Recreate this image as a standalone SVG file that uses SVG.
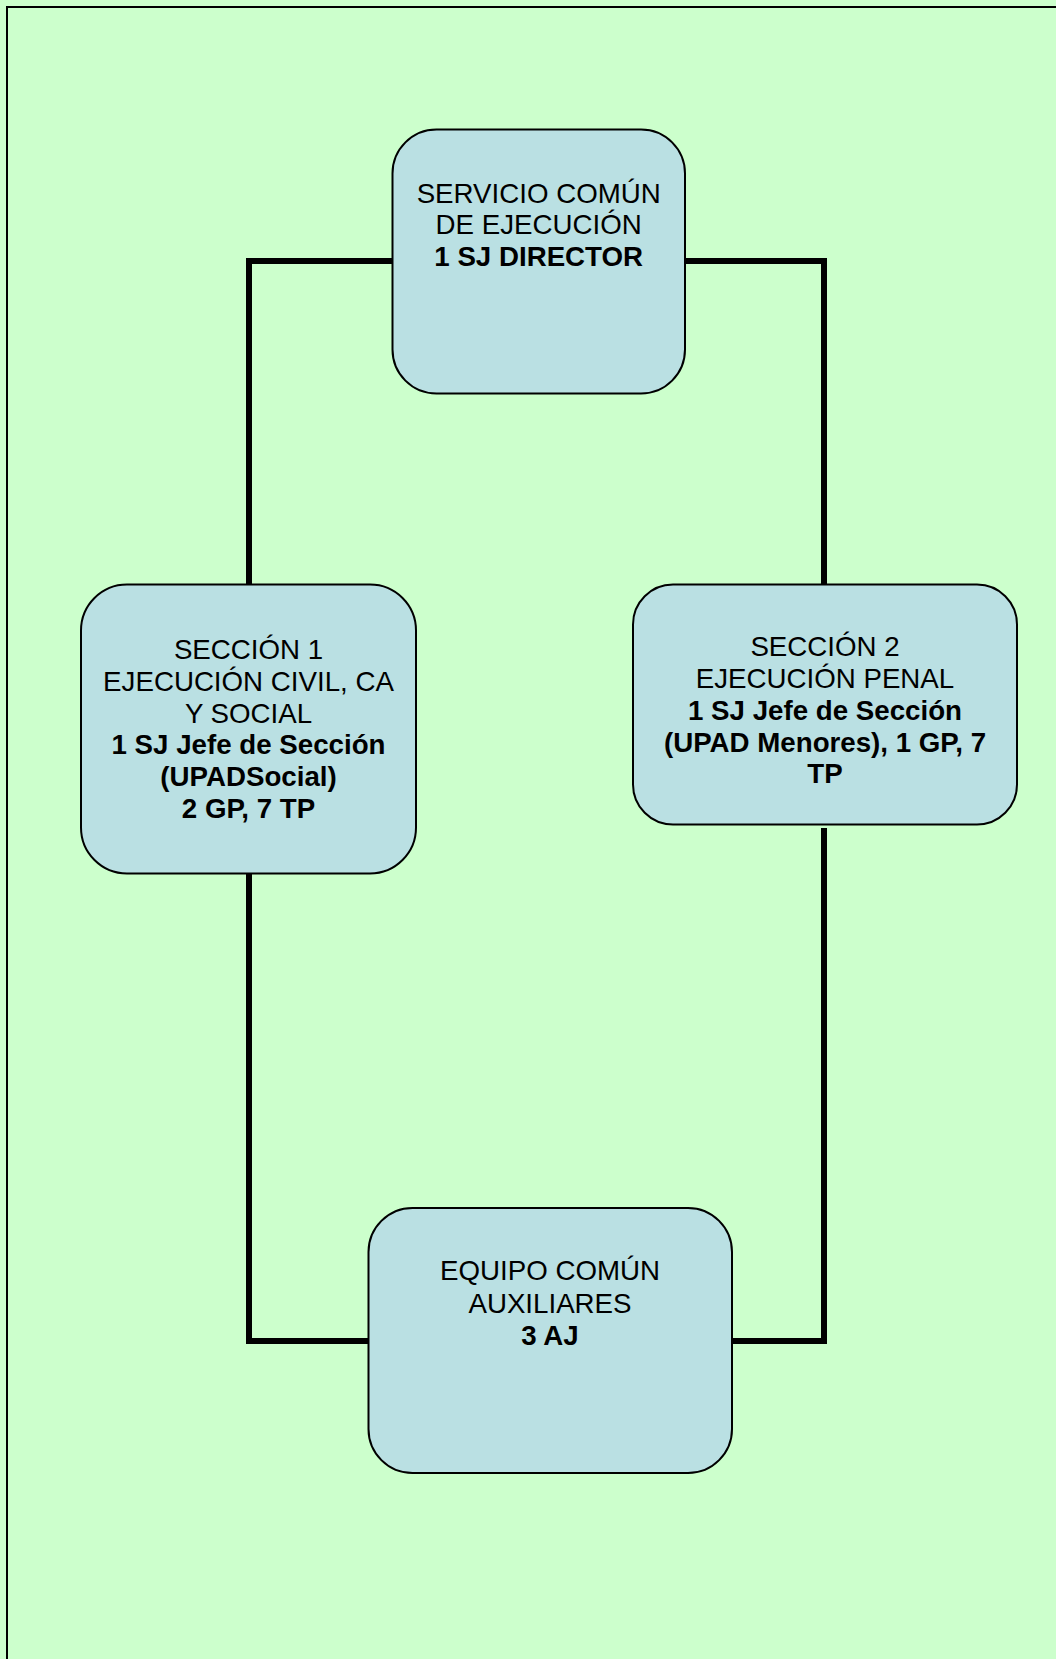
<svg xmlns="http://www.w3.org/2000/svg" width="1056" height="1659" viewBox="0 0 1056 1659">
<style>
.node{fill:#BAE0E3;stroke:#000;stroke-width:2}
.conn{fill:none;stroke:#000;stroke-width:6;stroke-linejoin:miter}
text{font-family:"Liberation Sans",Arial,sans-serif;font-size:27.7px;fill:#000;text-anchor:middle}
.b{font-weight:bold}
</style>
<rect x="0" y="0" width="1056" height="1659" fill="#CCFFCC"/>
<path d="M7,1659 V7 H1056" fill="none" stroke="#000" stroke-width="2"/>
<g id="connectors">
<path class="conn" d="M392,261 H249 V584"/>
<path class="conn" d="M685,261 H824 V584"/>
<path class="conn" d="M249,874 V1341 H368"/>
<path class="conn" d="M824,828 V1341 H732"/>
</g>
<g id="node-servicio">
<rect class="node" x="392.5" y="129.5" width="292.5" height="264" rx="44" ry="44"/>
<text x="538.7" y="202.5">SERVICIO COMÚN</text>
<text x="538.7" y="234">DE EJECUCIÓN</text>
<text class="b" x="538.7" y="265.5">1 SJ DIRECTOR</text>
</g>
<g id="node-seccion1">
<rect class="node" x="81" y="584.5" width="335" height="289" rx="46" ry="46"/>
<text x="248.5" y="659">SECCIÓN 1</text>
<text x="248.5" y="691">EJECUCIÓN CIVIL, CA</text>
<text x="248.5" y="722.5">Y SOCIAL</text>
<text class="b" x="248.5" y="754">1 SJ Jefe de Sección</text>
<text class="b" x="248.5" y="786">(UPADSocial)</text>
<text class="b" x="248.5" y="818">2 GP, 7 TP</text>
</g>
<g id="node-seccion2">
<rect class="node" x="633" y="584.5" width="384" height="240" rx="40" ry="40"/>
<text x="825" y="656">SECCIÓN 2</text>
<text x="825" y="688">EJECUCIÓN PENAL</text>
<text class="b" x="825" y="720">1 SJ Jefe de Sección</text>
<text class="b" x="825" y="751.5">(UPAD Menores), 1 GP, 7</text>
<text class="b" x="825" y="783">TP</text>
</g>
<g id="node-equipo">
<rect class="node" x="368.5" y="1208" width="363.5" height="265" rx="44" ry="44"/>
<text x="550" y="1280">EQUIPO COMÚN</text>
<text x="550" y="1312.5">AUXILIARES</text>
<text class="b" x="550" y="1345">3 AJ</text>
</g>
</svg>
